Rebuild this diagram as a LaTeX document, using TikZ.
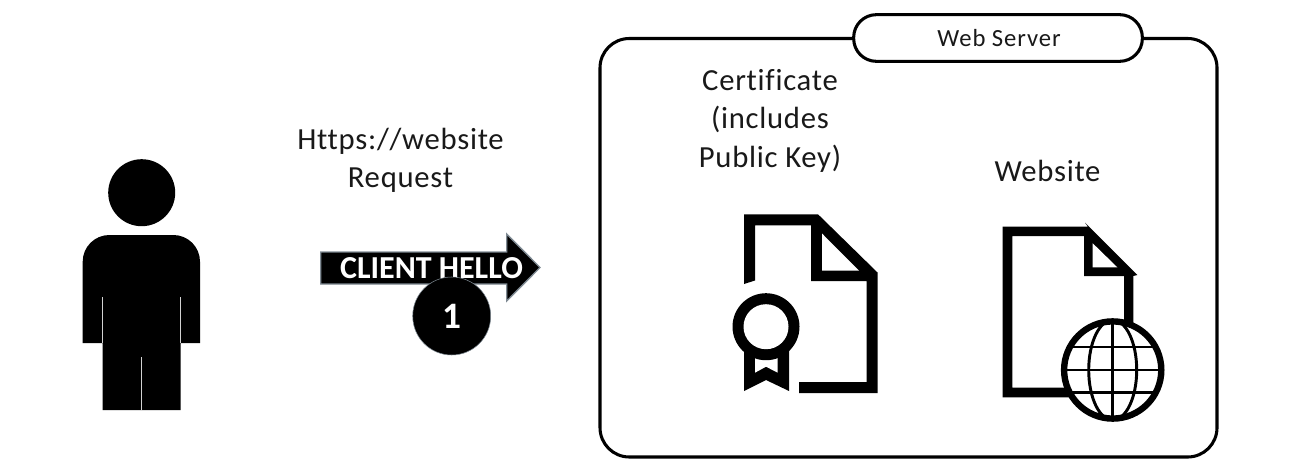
\documentclass[tikz,border=0pt]{standalone}
\usepackage{fontspec}
\setmainfont{Carlito}[Ligatures=NoCommon]
\definecolor{edgegrey}{HTML}{7F8A93}
\tikzset{
  px/.style={x=0.75pt,y=-0.75pt},
  lbl/.style={font=\fontsize{23}{28.9}\selectfont\addfontfeature{LetterSpace=2.4},text=black!90,align=center,inner sep=0pt},
  frame/.style={draw=black,line width=2.3pt,fill=white},
}
\begin{document}
\begin{tikzpicture}[px]
\useasboundingbox (0,0) rectangle (1301,467);
% person
\fill[black] (141.7,192.7) circle (33.5);
\fill[black,rounded corners=20pt] (82.7,300) -- (82.7,235) -- (200,235) -- (200,300) [sharp corners] -- (200,343) -- (180.5,343) -- (180.5,410) -- (102.5,410) -- (102.5,343) -- (82.7,343) -- cycle;
\draw[white!65!gray,line width=.6pt] (102.5,297) -- (102.5,343) (180.5,297) -- (180.5,343) (141.7,357) -- (141.7,410);
% request text
\node[lbl] (req) at (400.5,160.5) {Https://website\\Request};
% arrow
\draw[fill=black,draw=edgegrey,line width=1pt] (320.7,252) -- (506.7,252) -- (506.7,234) -- (540,267.5) -- (506.7,301) -- (506.7,284) -- (320.7,284) -- cycle;
\node[font=\fontsize{24}{26}\bfseries\selectfont,text=white,inner sep=0pt] (hello) at (431.5,268) {CLIENT HELLO};
\node[circle,fill=black,draw=edgegrey,line width=.4pt,inner sep=0pt,minimum size=58.5pt,font=\fontsize{28}{30}\bfseries\selectfont,text=white] (one) at (451.7,316) {1};
% server
\draw[frame,rounded corners=22pt] (600,38.5) rectangle (1217,457);
\node[frame,rounded corners=17pt,minimum width=216.5pt,minimum height=35pt,inner sep=0pt,font=\fontsize{18.5}{20}\selectfont\addfontfeature{LetterSpace=3.6},text=black!90] (srv) at (998,38) {\hspace{1.5pt}Web Server};
\node[lbl] (cert) at (770,120.5) {Certificate\\(includes\\Public Key)};
\node[lbl] (site) at (1047.5,171) {Website};
% certificate icon
\fill[black] (744,284) -- (744,214.3) -- (818,214.3) -- (877.7,272.7) -- (877.7,393) -- (799,393) -- (799,382) -- (866.7,382) -- (866.7,281) -- (811,281) -- (811,225.3) -- (755,225.3) -- (755,280.5) -- cycle;
\fill[white] (822,233.5) -- (859,270.7) -- (822,270.7) -- cycle;
\fill[black] (744,340) -- (789,340) -- (789,391) -- (766,380) -- (744,391) -- cycle;
\fill[white] (755,358) -- (777.7,358) -- (777.7,372.7) -- (766,366.7) -- (755,372.7) -- cycle;
\fill[black] (766,326.7) circle (33.5);
\fill[white] (766,326.7) circle (22.5);
% website icon
\fill[black] (1002.7,226.7) -- (1088,226.7) -- (1085,222.7) -- (1137.3,275) -- (1133.3,276) -- (1133.3,345) -- (1124,345) -- (1124,276) -- (1084,276) -- (1084,236) -- (1012.3,236) -- (1012.3,387.7) -- (1080,387.7) -- (1080,397.3) -- (1002.7,397.3) -- cycle;
\fill[white] (1092.7,243.3) -- (1117.3,267.3) -- (1092.7,267.3) -- cycle;
\fill[white] (1112.7,370) circle (48);
\begin{scope}
\clip (1112.7,370) circle (48);
\draw[black,line width=2.2pt] (1112.7,318.7) -- (1112.7,421.3) (1060,347) -- (1165,347) (1060,370) -- (1165,370) (1060,392.7) -- (1165,392.7);
\draw[black,line width=2.2pt] (1112.7,370) ellipse (24 and 50);
\end{scope}
\draw[black,line width=4.8pt] (1112.7,370) circle (48.6);
\end{tikzpicture}
\end{document}
